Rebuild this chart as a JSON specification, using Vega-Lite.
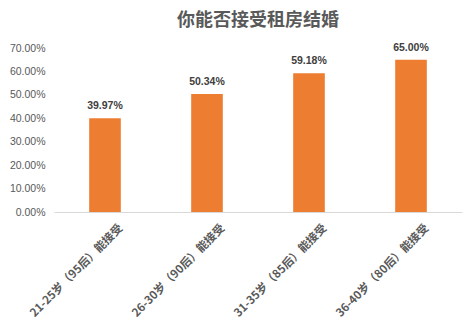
{
  "$schema": "https://vega.github.io/schema/vega-lite/v6.json",
  "autosize": "none",
  "padding": {"left": 54, "top": 48, "right": 9, "bottom": 114},
  "width": 408,
  "height": 164,
  "background": "white",
  "title": {
    "text": "你能否接受租房结婚",
    "font": "Noto Sans CJK SC",
    "fontSize": 18,
    "fontWeight": "bold",
    "color": "#595959",
    "anchor": "middle",
    "offset": 13
  },
  "data": {
    "values": [
      {"group": "21-25岁（95后）能接受", "rate": 0.3997},
      {"group": "26-30岁（90后）能接受", "rate": 0.5034},
      {"group": "31-35岁（85后）能接受", "rate": 0.5918},
      {"group": "36-40岁（80后）能接受", "rate": 0.65}
    ]
  },
  "config": {"view": {"stroke": null}},
  "encoding": {
    "x": {
      "field": "group",
      "type": "nominal",
      "sort": null,
      "scale": {"paddingInner": 0.69, "paddingOuter": 0.345},
      "axis": {
        "title": null,
        "labelAngle": -45,
        "labelFont": "Noto Sans CJK SC",
        "labelFontSize": 11.5,
        "labelFontWeight": "bold",
        "labelColor": "#595959",
        "ticks": false,
        "domainColor": "#d9d9d9",
        "labelPadding": 10,
        "labelOffset": 12
      }
    },
    "y": {
      "field": "rate",
      "type": "quantitative",
      "scale": {"domain": [0, 0.7]},
      "axis": {
        "title": null,
        "format": ".2%",
        "values": [0, 0.1, 0.2, 0.3, 0.4, 0.5, 0.6, 0.7],
        "grid": false,
        "domain": false,
        "ticks": false,
        "labelFont": "Liberation Sans",
        "labelFontSize": 10.5,
        "labelColor": "#595959",
        "labelPadding": 9
      }
    }
  },
  "layer": [
    {"mark": {"type": "bar", "color": "#ed7d31"}},
    {
      "mark": {"type": "text", "dy": -12, "font": "Liberation Sans", "fontSize": 10.5, "fontWeight": "bold", "color": "#404040"},
      "encoding": {"text": {"field": "rate", "format": ".2%"}}
    }
  ]
}
